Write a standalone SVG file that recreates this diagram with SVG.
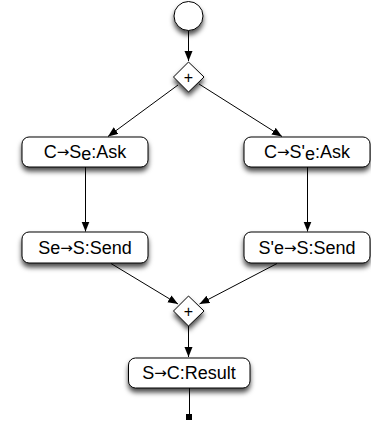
<svg xmlns="http://www.w3.org/2000/svg" width="371" height="425" viewBox="0 0 371 425">
<style>
.n{fill:#fff;stroke:#000;stroke-width:1;filter:url(#s)}
.t{font-family:"Liberation Sans",Arial,sans-serif;font-size:18px;fill:#000;text-anchor:middle}
.a{font-size:15px;font-family:"DejaVu Sans",sans-serif}
.p{font-family:"Liberation Sans",Arial,sans-serif;font-size:16px;fill:#000;text-anchor:middle}
.c{fill:none;stroke:#000;stroke-width:1;marker-end:url(#m)}
.l{fill:none;stroke:#000;stroke-width:1}
</style>
<defs>
<filter id="s" x="-30%" y="-50%" width="160%" height="220%">
<feDropShadow dx="0" dy="4" stdDeviation="2.6" flood-color="#000" flood-opacity="0.7"/>
</filter>
<marker id="m" markerUnits="userSpaceOnUse" markerWidth="12" markerHeight="10" refX="10" refY="4" orient="auto">
<path d="M0,0 L10,4 L0,8 Z" fill="#000"/>
</marker>
</defs>
<g id="connectors">
<path class="c" d="M188.5 30.500V61"/>
<path class="c" d="M178 85L108 136.500"/>
<path class="c" d="M199 84L282 136.500"/>
<path class="c" d="M85.500 167V231.500"/>
<path class="c" d="M307.500 167V231.500"/>
<path class="c" d="M111 263.500L178 304"/>
<path class="c" d="M277 263.500L199.500 304"/>
<path class="c" d="M188.500 326V357"/>
<path class="l" d="M189.500 388V416"/>
</g>
<g id="start"><circle class="n" cx="188.500" cy="16" r="14.500"/></g>
<g id="split"><path class="n" d="M188.500 62L204 77L188.500 92L173.500 77Z"/><text class="p" x="188.500" y="83">+</text></g>
<g id="ask1"><rect class="n" x="22" y="137" width="126" height="30" rx="7"/><text class="t" x="85" y="158">C<tspan class="a" dy="-1">→</tspan><tspan dy="1">S</tspan><tspan dy="1.500">e</tspan><tspan dy="-1.500">:Ask</tspan></text></g>
<g id="ask2"><rect class="n" x="244" y="137" width="126" height="30" rx="7"/><text class="t" x="307" y="158">C<tspan class="a" dy="-1">→</tspan><tspan dy="1">S'</tspan><tspan dy="1.500">e</tspan><tspan dy="-1.500">:Ask</tspan></text></g>
<g id="send1"><rect class="n" x="22" y="232" width="126" height="31" rx="7"/><text class="t" x="85" y="254">Se<tspan class="a" dy="-1">→</tspan><tspan dy="1">S:Send</tspan></text></g>
<g id="send2"><rect class="n" x="244" y="232" width="126" height="31" rx="7"/><text class="t" x="307" y="254">S'e<tspan class="a" dy="-1">→</tspan><tspan dy="1">S:Send</tspan></text></g>
<g id="join"><path class="n" d="M188.500 296L204 311L188.500 326L173.500 311Z"/><text class="p" x="188.500" y="317">+</text></g>
<g id="result"><rect class="n" x="128.500" y="358" width="121.500" height="30" rx="7"/><text class="t" x="189" y="379">S<tspan class="a" dy="-1">→</tspan><tspan dy="1">C:Result</tspan></text></g>
<g id="end"><rect x="186" y="414" width="6" height="6" fill="#000"/></g>
</svg>
